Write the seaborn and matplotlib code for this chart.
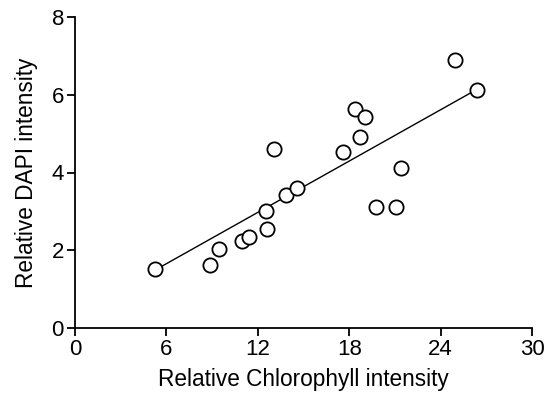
import numpy as np
import pandas as pd
import matplotlib
matplotlib.use("Agg")
import matplotlib.pyplot as plt
import seaborn as sns

chlorophyll = [5.26, 8.88, 9.43, 10.99, 11.45, 12.54, 12.61, 13.09, 13.84, 14.58,
               17.59, 18.40, 18.68, 19.01, 19.74, 21.10, 21.40, 24.95, 26.42]
dapi = [1.51, 1.63, 2.02, 2.25, 2.35, 3.01, 2.54, 4.60, 3.42, 3.59,
        4.53, 5.63, 4.92, 5.42, 3.12, 3.12, 4.11, 6.89, 6.12]

# regression line
fit_intercept = 0.334
fit_slope = 0.22

df = pd.DataFrame({"chl": chlorophyll, "dapi": dapi})

sns.set_style("ticks")
plt.rcParams['font.family'] = ['Liberation Sans', 'DejaVu Sans']
plt.rcParams['text.color'] = 'black'
plt.rcParams['axes.labelcolor'] = 'black'

fig = plt.figure(figsize=(5.44, 3.93), dpi=100)
ax = fig.add_axes([75 / 544, 1 - 328 / 393, (532 - 75) / 544, (328 - 17) / 393])

fit_x = np.array([min(chlorophyll), max(chlorophyll) + 0.3])
sns.lineplot(x=fit_x, y=fit_intercept + fit_slope * fit_x, ax=ax, color="black", lw=1.0)
sns.scatterplot(data=df, x="chl", y="dapi", ax=ax, s=105, facecolor="white",
                edgecolor="black", linewidth=1.3, zorder=3)

ax.set_xlim(0, 30)
ax.set_ylim(0, 8)
ax.set_xticks(range(0, 31, 6))
ax.set_yticks(range(0, 9, 2))
for s in ["top", "right"]:
    ax.spines[s].set_visible(False)
for s in ["left", "bottom"]:
    ax.spines[s].set_linewidth(1.3)
    ax.spines[s].set_color("black")
ax.tick_params(direction="out", length=6, width=1.3, labelsize=16, colors="black", pad=2)
ax.set_xlabel("Relative Chlorophyll intensity", fontsize=16.3, labelpad=6, color="black")
ax.set_ylabel("Relative DAPI intensity", fontsize=16.3, labelpad=10, color="black")

fig.savefig("out.png", dpi=100)
